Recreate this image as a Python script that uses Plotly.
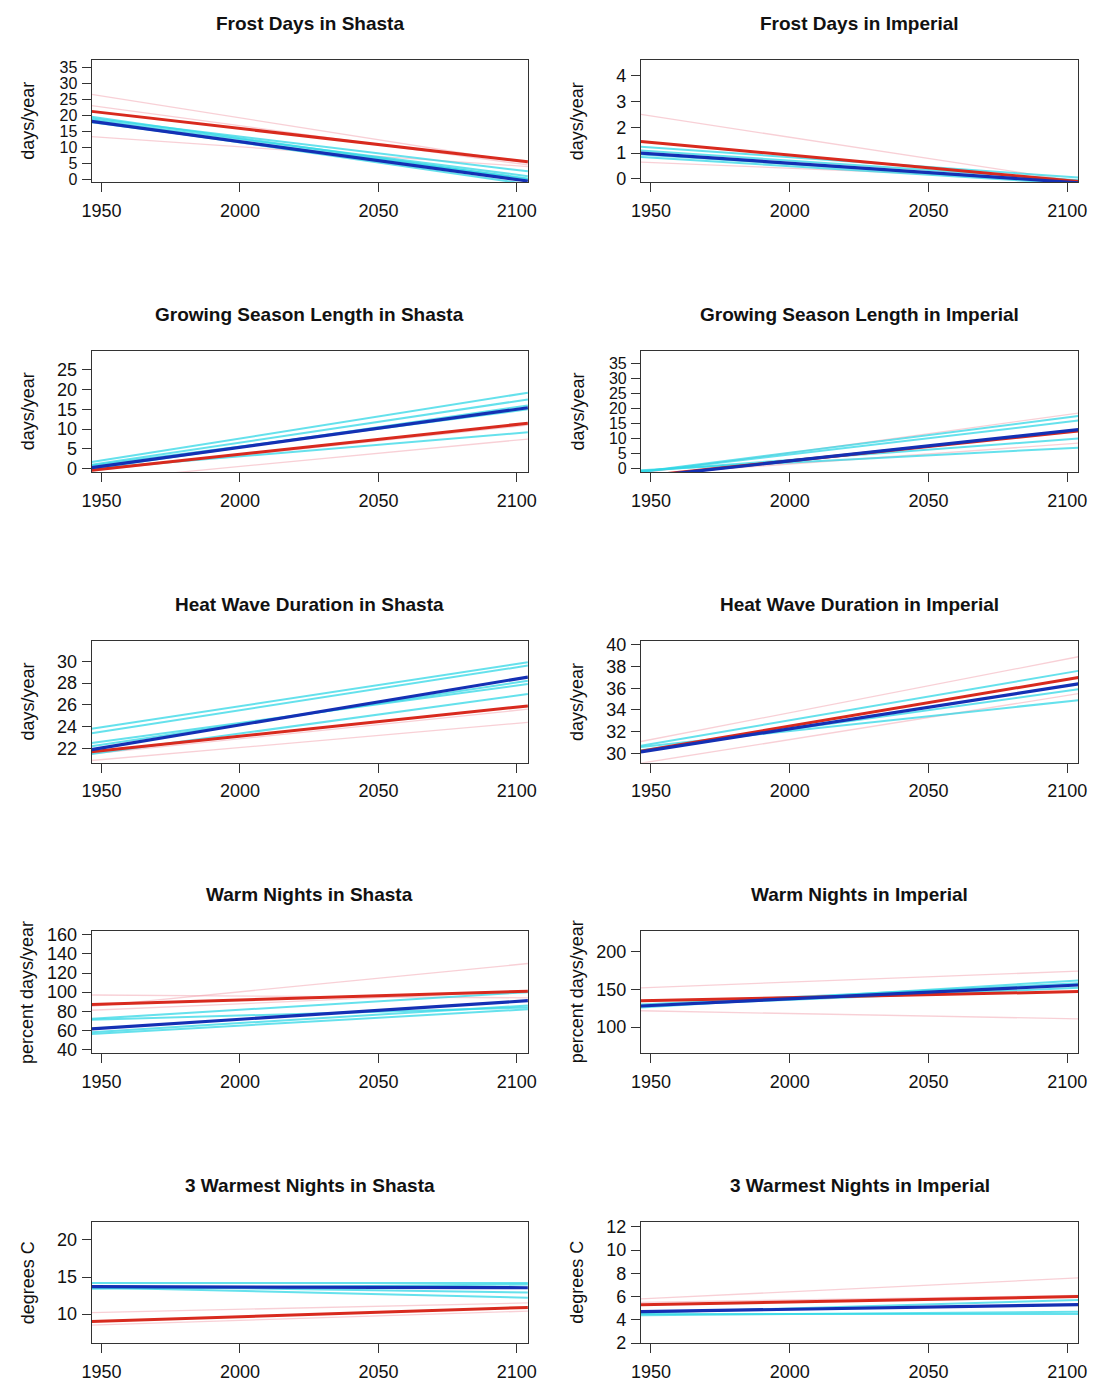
import plotly.graph_objects as go

W, H = 1102, 1391
X_START, X_END = 1946.4, 2104.0
X_TICKS = [1950, 2000, 2050, 2100]

TITLES = [
    "Frost Days in Shasta", "Frost Days in Imperial",
    "Growing Season Length in Shasta", "Growing Season Length in Imperial",
    "Heat Wave Duration in Shasta", "Heat Wave Duration in Imperial",
    "Warm Nights in Shasta", "Warm Nights in Imperial",
    "3 Warmest Nights in Shasta", "3 Warmest Nights in Imperial",
]
Y_LABELS = ["days/year", "days/year", "days/year", "days/year", "days/year", "days/year",
            "percent days/year", "percent days/year", "degrees C", "degrees C"]

# each line: (value at X_START, value at X_END)
FS_PINK = [(26.5, 5.0), (23.0, 4.5), (13.3, 4.0)]
FS_CYAN = [(19.0, 2.5), (18.5, 1.0), (18.2, -1.5), (17.8, 0.3), (19.5, 0.0)]
FS_RED = (21.2, 5.5)
FS_BLUE = (18.1, -0.5)

FI_PINK = [(2.5, -0.1), (0.65, -0.05)]
FI_CYAN = [(1.25, 0.05), (1.1, -0.05), (0.85, -0.2), (0.95, -0.15)]
FI_RED = (1.45, -0.1)
FI_BLUE = (1.0, -0.15)

GS_PINK = [(-3.0, 7.5), (-0.5, 11.0)]
GS_CYAN = [(1.7, 19.2), (1.0, 17.5), (0.0, 16.0), (0.0, 9.2), (0.8, 15.0)]
GS_RED = (-0.4, 11.5)
GS_BLUE = (0.3, 15.4)

GI_PINK = [(-1.5, 18.5), (-2.0, 8.5)]
GI_CYAN = [(-1.0, 17.5), (-1.1, 16.0), (-0.8, 10.0), (-0.5, 7.0)]
GI_RED = (-2.5, 12.5)
GI_BLUE = (-2.8, 13.0)

HS_PINK = [(20.9, 24.4), (21.5, 25.6)]
HS_CYAN = [(23.8, 29.9), (23.4, 29.6), (22.5, 27.9), (21.5, 27.0), (22.2, 28.2)]
HS_RED = (21.7, 25.9)
HS_BLUE = (21.9, 28.55)

HI_PINK = [(31.1, 38.9), (29.1, 35.5)]
HI_CYAN = [(30.7, 37.6), (30.6, 34.9), (30.3, 35.9)]
HI_RED = (30.2, 37.0)
HI_BLUE = (30.15, 36.4)

WS_PINK = [(97.0, 94.0), (85.0, 130.0), (81.0, 101.0)]
WS_CYAN = [(72.0, 100.0), (71.0, 84.0), (56.0, 82.0), (58.0, 86.0)]
WS_RED = (87.0, 101.0)
WS_BLUE = (61.5, 91.0)

WI_PINK = [(152.0, 174.0), (121.7, 111.0)]
WI_CYAN = [(126.0, 161.7), (128.0, 152.0), (130.0, 158.0)]
WI_RED = (134.8, 147.0)
WI_BLUE = (128.0, 155.7)

TS_PINK = [(10.2, 11.5), (8.5, 10.4)]
TS_CYAN = [(14.2, 14.2), (13.8, 12.9), (13.6, 12.2), (13.4, 14.0)]
TS_RED = (9.0, 10.9)
TS_BLUE = (13.7, 13.55)

TI_PINK = [(5.8, 7.6), (5.5, 6.1)]
TI_CYAN = [(4.5, 4.5), (4.6, 5.7), (4.4, 4.7)]
TI_RED = (5.3, 6.0)
TI_BLUE = (4.7, 5.3)

Y_RANGES = [(-0.8, 37.1), (-0.12, 4.6), (-0.9, 29.8), (-1.2, 39.2), (20.7, 31.84),
            (29.15, 40.34), (36.1, 163.6), (65.8, 226.4), (6.04, 22.44), (1.97, 12.42)]
Y_TICKS = [list(range(0, 36, 5)), [0, 1, 2, 3, 4], list(range(0, 26, 5)), list(range(0, 36, 5)),
           [22, 24, 26, 28, 30], [30, 32, 34, 36, 38, 40], list(range(40, 161, 20)),
           [100, 150, 200], [10, 15, 20], [2, 4, 6, 8, 10, 12]]
Y_TICK_SIZE = [16, 18, 18, 16, 18, 18, 18, 18, 18, 18]

PANELS = [
    (FS_PINK, FS_CYAN, FS_RED, FS_BLUE), (FI_PINK, FI_CYAN, FI_RED, FI_BLUE),
    (GS_PINK, GS_CYAN, GS_RED, GS_BLUE), (GI_PINK, GI_CYAN, GI_RED, GI_BLUE),
    (HS_PINK, HS_CYAN, HS_RED, HS_BLUE), (HI_PINK, HI_CYAN, HI_RED, HI_BLUE),
    (WS_PINK, WS_CYAN, WS_RED, WS_BLUE), (WI_PINK, WI_CYAN, WI_RED, WI_BLUE),
    (TS_PINK, TS_CYAN, TS_RED, TS_BLUE), (TI_PINK, TI_CYAN, TI_RED, TI_BLUE),
]

FONT = "Liberation Sans, Arial, sans-serif"
PINK = "rgba(240,150,165,0.45)"
CYAN = "rgba(50,215,230,0.75)"
RED = "#d82a1e"
BLUE = "#1430b4"

COL_X = [(83, 527), (642, 1087)]
ROW_TOP = [55, 348.75, 642.5, 936.25, 1230]
BOX_H = 123

fig = go.Figure()
layout = dict(width=W, height=H, margin=dict(l=0, r=0, t=0, b=0),
              paper_bgcolor="white", plot_bgcolor="white", showlegend=False,
              font=dict(family=FONT, size=18, color="#111"))
annotations = []

for i, (pinks, cyans, red, blue) in enumerate(PANELS):
    r, c = divmod(i, 2)
    n = i + 1
    xa = "x" if n == 1 else f"x{n}"
    ya = "y" if n == 1 else f"y{n}"
    x0, x1 = COL_X[c]
    top = ROW_TOP[r]
    bot = top + BOX_H
    xd = [x0 / W, x1 / W]
    yd = [1 - bot / H, 1 - top / H]
    axis_common = dict(showline=True, mirror=True, linecolor="#333", linewidth=1,
                       ticks="outside", ticklen=9, tickcolor="#333", tickwidth=1,
                       showgrid=False, zeroline=False)
    layout["xaxis" if n == 1 else f"xaxis{n}"] = dict(
        domain=xd, anchor=ya, range=[X_START, X_END], tickvals=X_TICKS,
        ticklabelstandoff=3, tickfont=dict(family=FONT, size=18, color="#111"), **axis_common)
    layout["yaxis" if n == 1 else f"yaxis{n}"] = dict(
        domain=yd, anchor=xa, range=list(Y_RANGES[i]), tickvals=Y_TICKS[i],
        ticklabelstandoff=1, tickfont=dict(family=FONT, size=Y_TICK_SIZE[i], color="#111"),
        **axis_common)

    def add(vals, color, width):
        fig.add_trace(go.Scatter(x=[X_START, X_END], y=list(vals), mode="lines",
                                 line=dict(color=color, width=width),
                                 xaxis=xa, yaxis=ya, hoverinfo="skip"))
    for p in pinks:
        add(p, PINK, 1.3)
    for cy in cyans:
        add(cy, CYAN, 2.0)
    add(red, RED, 3)
    add(blue, BLUE, 3.2)

    annotations.append(dict(text=f"<b>{TITLES[i]}</b>", x=(x0 + x1) / 2 / W, y=1 - (top - 37) / H,
                            xref="paper", yref="paper", showarrow=False,
                            xanchor="center", yanchor="middle",
                            font=dict(family=FONT, size=19, color="#111")))
    ylab_x = 18 if c == 0 else 577
    annotations.append(dict(text=Y_LABELS[i], x=ylab_x / W, y=1 - (top + BOX_H / 2) / H,
                            xref="paper", yref="paper", showarrow=False, textangle=-90,
                            xanchor="center", yanchor="middle",
                            font=dict(family=FONT, size=18, color="#111")))

layout["annotations"] = annotations
fig.update_layout(**layout)
fig.write_html("out.html")
